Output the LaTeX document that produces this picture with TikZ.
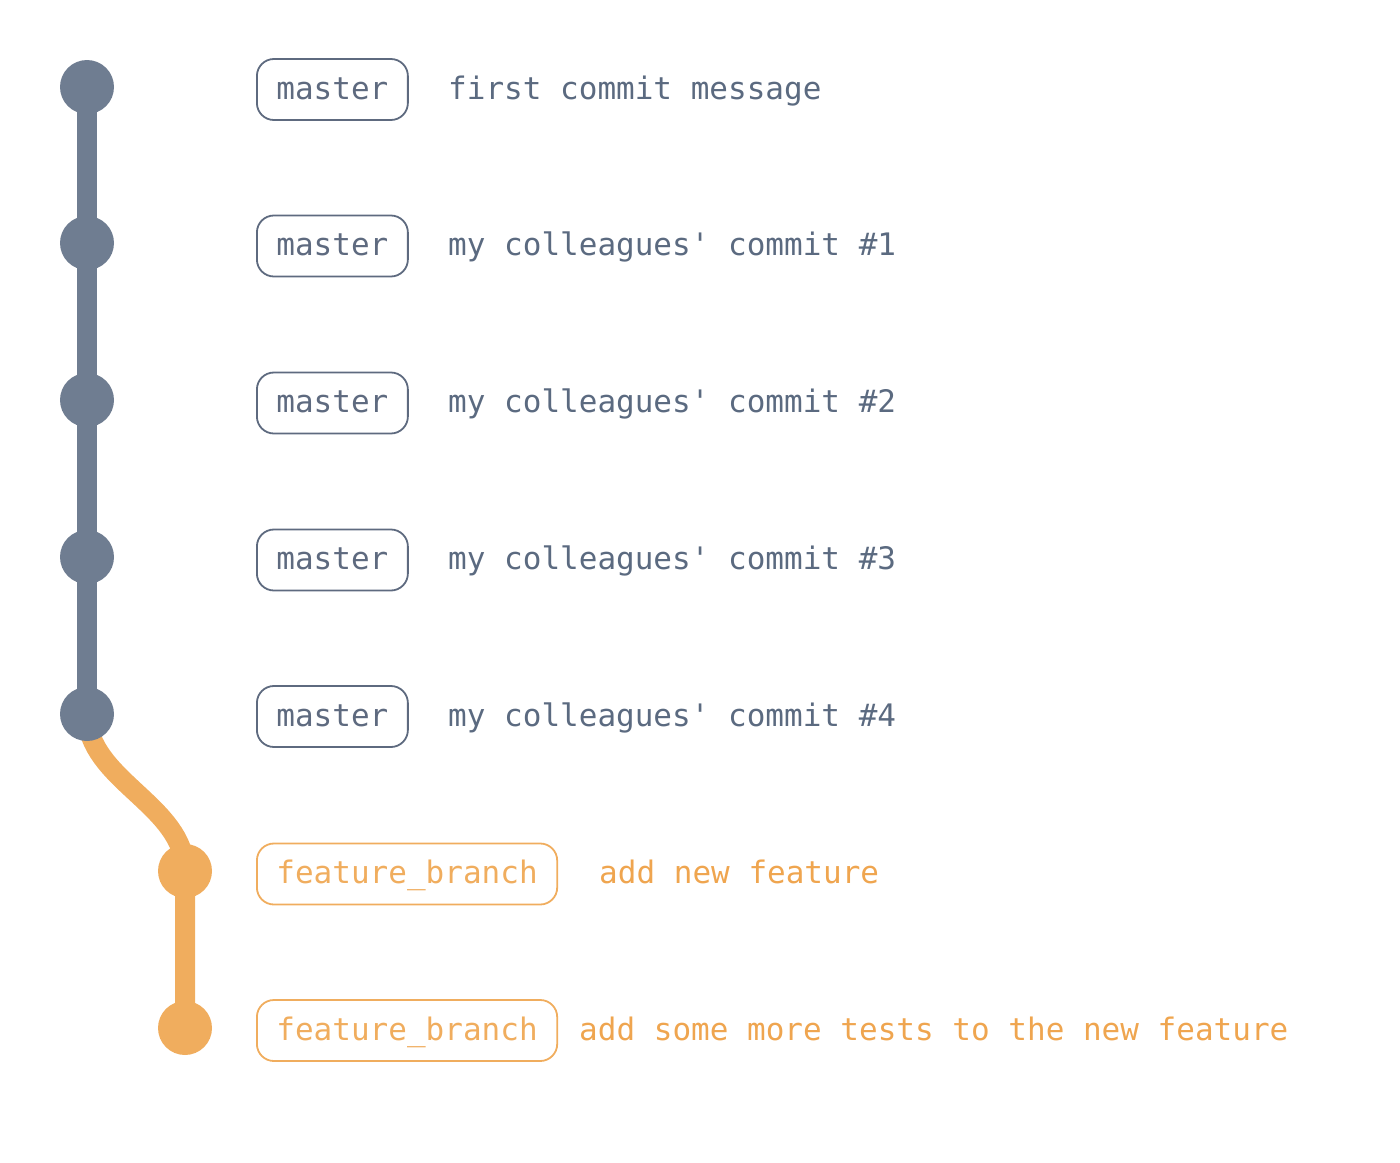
\documentclass[tikz,border=0pt]{standalone}
\usepackage{fontspec}
\setmonofont{DejaVu Sans Mono}
\usetikzlibrary{backgrounds}
\definecolor{slate}{HTML}{6F7D91}
\definecolor{slatetext}{HTML}{5B6A80}
\definecolor{slateline}{HTML}{5E6A7F}
\definecolor{amber}{HTML}{F0AD5E}
\definecolor{ambertext}{HTML}{EFA54F}
\tikzset{
  x=1pt, y=-1pt,
  commit/.style={circle, fill=#1, minimum size=54pt, inner sep=0pt},
  tag/.style={draw=#1, text=#1, line width=1.8pt, rounded corners=17pt,
    minimum height=61pt, inner xsep=19.5pt, text height=22pt, text depth=3pt,
    anchor=west, font=\ttfamily\fontsize{31}{31}\selectfont},
  msg/.style={text=#1, anchor=base west, inner sep=0pt,
    font=\ttfamily\fontsize{31}{31}\selectfont},
  branchline/.style={draw=#1, line width=20pt}
}
\begin{document}
\begin{tikzpicture}
\useasboundingbox (0,0) rectangle (1400,1162);
% commits
\node[commit=slate] (c1) at (87,87) {};
\node[commit=slate] (c2) at (87,243) {};
\node[commit=slate] (c3) at (87,400) {};
\node[commit=slate] (c4) at (87,557) {};
\node[commit=slate] (c5) at (87,714) {};
\node[commit=amber] (c6) at (185,871) {};
\node[commit=amber] (c7) at (185,1028) {};
% tags
\node[tag=slateline] (t1) at (256,89.5) {master};
\node[tag=slateline] (t2) at (256,246) {master};
\node[tag=slateline] (t3) at (256,403) {master};
\node[tag=slateline] (t4) at (256,560) {master};
\node[tag=slateline] (t5) at (256,716.5) {master};
\node[tag=amber] (t6) at (256,874) {feature\_branch};
\node[tag=amber] (t7) at (256,1030.5) {feature\_branch};
% messages
\node[msg=slatetext] (m1) at (448,99) {first commit message};
\node[msg=slatetext] (m2) at (448,255) {my colleagues' commit \#1};
\node[msg=slatetext] (m3) at (448,412) {my colleagues' commit \#2};
\node[msg=slatetext] (m4) at (448,569) {my colleagues' commit \#3};
\node[msg=slatetext] (m5) at (448,726) {my colleagues' commit \#4};
\node[msg=ambertext] (m6) at (599,883) {add new feature};
\node[msg=ambertext] (m7) at (579,1040) {add some more tests to the new feature};
% connectors
\begin{pgfonlayer}{background}
\draw[branchline=slate] (c1.center) -- (c5.center);
\draw[branchline=amber] (c5.center) .. controls (87,780) and (185,805) .. (c6.center) -- (c7.center);
\end{pgfonlayer}
\end{tikzpicture}
\end{document}
